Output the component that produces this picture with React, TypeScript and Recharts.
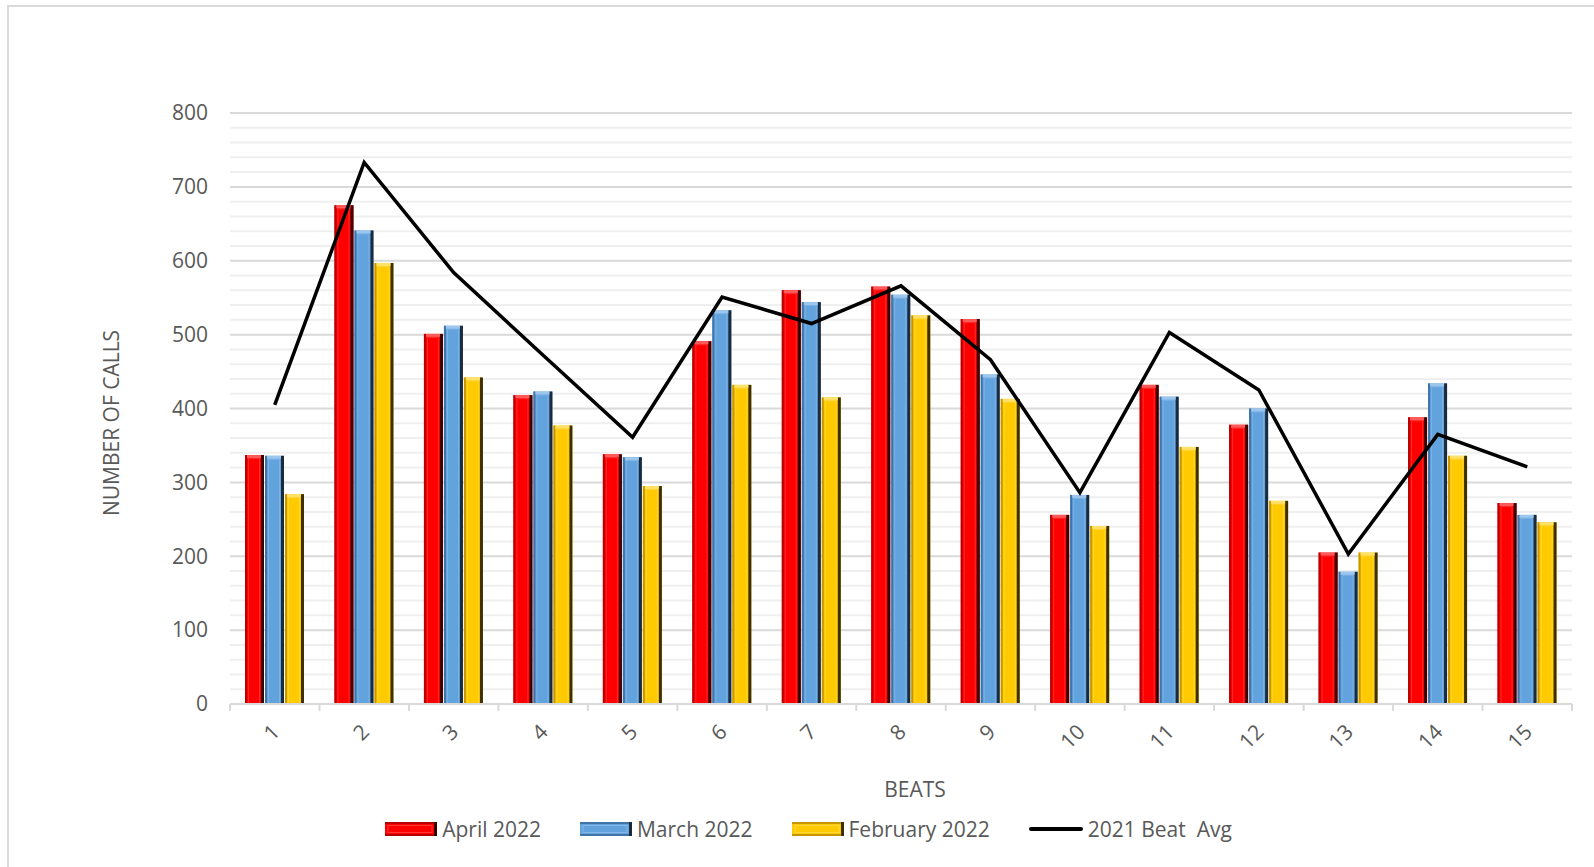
import React from 'react';
import {
  ComposedChart,
  Bar,
  Line,
  XAxis,
  YAxis,
  CartesianGrid,
} from 'recharts';

// beats and monthly call counts
const beats = ['1', '2', '3', '4', '5', '6', '7', '8', '9', '10', '11', '12', '13', '14', '15'];
const april2022 = [337, 675, 501, 418, 338, 491, 560, 565, 521, 256, 432, 378, 205, 388, 272];
const march2022 = [336, 641, 512, 423, 334, 533, 544, 554, 446, 283, 416, 400, 179, 434, 256];
const february2022 = [284, 597, 442, 377, 295, 432, 415, 526, 413, 241, 348, 275, 205, 336, 246];
const beatAvg2021 = [405, 733, 584, 472, 361, 551, 515, 566, 466, 286, 503, 425, 203, 365, 321];

const yLabels = [0, 100, 200, 300, 400, 500, 600, 700, 800];
const yMinorStep = 20;

const data = beats.map((beat, i) => ({
  beat,
  april: april2022[i],
  march: march2022[i],
  february: february2022[i],
  avg: beatAvg2021[i],
}));

const yTicks = Array.from({ length: 800 / yMinorStep + 1 }, (_, i) => i * yMinorStep);

const W = 1594;
const H = 867;
const TOP = 113;
const RIGHT = 22;
const Y_AXIS_W = 230;
const X_AXIS_H = 163;
const PLOT_BOTTOM = H - X_AXIS_H;
const PLOT_H = PLOT_BOTTOM - TOP;
const BAND = (W - Y_AXIS_W - RIGHT) / beats.length;

const FONT = "'Open Sans', 'Noto Sans', sans-serif";
const FS = 21;
const TEXT = '#595959';

const tones = {
  red: { base: '#FF0000', edge: '#B80000', dark: '#3A0000', light: '#FF5A5A' },
  blue: { base: '#62A2DD', edge: '#3F74A8', dark: '#1C2B3C', light: '#9CC6EE' },
  yellow: { base: '#FFCA00', edge: '#C89600', dark: '#3D3000', light: '#FFE16A' },
};

type Tone = typeof tones.red;

// bar with the bevelled look of the office chart
function BevelBar(props: any) {
  const { x, y, width, height, tone } = props as { x: number; y: number; width: number; height: number; tone: Tone };
  if (!height || height <= 0) return null;
  return (
    <g>
      <rect x={x} y={y} width={width} height={height} fill={tone.base} />
      <rect x={x} y={y} width={2} height={height} fill={tone.edge} />
      <rect x={x + width - 3} y={y} width={3} height={height} fill={tone.dark} />
      <rect x={x + 2} y={y} width={width - 5} height={3} fill={tone.light} />
      <rect
        x={x + 3.5}
        y={y + 3.5}
        width={Math.max(width - 8, 0)}
        height={Math.max(height - 4, 0)}
        fill="none"
        stroke={tone.light}
        strokeOpacity={0.45}
        strokeWidth={1}
      />
    </g>
  );
}

function XTick(props: any) {
  const { x, payload, index } = props;
  const left = x - BAND / 2;
  return (
    <g>
      <line x1={left} y1={PLOT_BOTTOM} x2={left} y2={PLOT_BOTTOM + 7} stroke="#D9D9D9" strokeWidth={2} />
      {index === beats.length - 1 && (
        <line x1={left + BAND} y1={PLOT_BOTTOM} x2={left + BAND} y2={PLOT_BOTTOM + 7} stroke="#D9D9D9" strokeWidth={2} />
      )}
      <text
        x={x + 1}
        y={PLOT_BOTTOM + 24}
        dy="0.35em"
        textAnchor="end"
        transform={`rotate(-45 ${x + 1} ${PLOT_BOTTOM + 24})`}
        style={{ fontFamily: FONT, fontSize: FS, fill: TEXT }}
      >
        {payload.value}
      </text>
    </g>
  );
}

function YTick(props: any) {
  const { y, payload } = props;
  if (!yLabels.includes(payload.value)) return null;
  return (
    <text
      x={Y_AXIS_W - 22}
      y={y}
      dy="0.35em"
      textAnchor="end"
      style={{ fontFamily: FONT, fontSize: FS, fill: TEXT }}
    >
      {payload.value}
    </text>
  );
}

function GridLine(props: any) {
  const { x1, x2, y1, y2 } = props;
  const v = Math.round(((PLOT_BOTTOM - y1) / PLOT_H) * 800);
  const major = v % 100 === 0;
  return (
    <line
      key={`g-${y1}`}
      x1={x1}
      x2={x2}
      y1={y1}
      y2={y2}
      stroke={major ? '#D9D9D9' : '#EFEFEF'}
      strokeWidth={2}
    />
  );
}

const legendItems = [
  { label: 'April 2022', tone: tones.red },
  { label: 'March 2022', tone: tones.blue },
  { label: 'February 2022', tone: tones.yellow },
];

function LegendSwatch({ tone }: { tone: Tone }) {
  return (
    <svg width={52} height={14}>
      <rect x={0} y={0} width={52} height={14} fill={tone.base} />
      <rect x={0} y={0} width={52} height={2} fill={tone.edge} />
      <rect x={0} y={12} width={52} height={2} fill={tone.edge} />
      <rect x={49} y={0} width={3} height={14} fill={tone.dark} />
      <rect x={3} y={3.5} width={44} height={7} fill="none" stroke={tone.light} strokeOpacity={0.6} />
    </svg>
  );
}

export default function App() {
  return (
    <div
      style={{
        position: 'absolute',
        left: 0,
        top: 0,
        width: W,
        height: H,
        overflow: 'hidden',
        background: '#fff',
        fontFamily: FONT,
      }}
    >
      <div
        style={{
          position: 'absolute',
          left: 7,
          top: 5,
          width: 2000,
          height: 2000,
          border: '2px solid #DADADA',
        }}
      />
      <div style={{ position: 'absolute', left: 0, top: 0 }}>
        <ComposedChart
          width={W}
          height={H}
          data={data}
          margin={{ top: TOP, right: RIGHT, left: 0, bottom: 0 }}
          barSize={19}
          barGap={1}
        >
          <CartesianGrid vertical={false} horizontal={GridLine} />
          <XAxis
            dataKey="beat"
            interval={0}
            height={X_AXIS_H}
            tickLine={false}
            axisLine={{ stroke: '#D9D9D9', strokeWidth: 2 }}
            tick={<XTick />}
            label={() => (
              <text
                x={915}
                y={789}
                textAnchor="middle"
                dominantBaseline="central"
                style={{ fontFamily: FONT, fontSize: FS, fill: TEXT }}
              >
                BEATS
              </text>
            )}
          />
          <YAxis
            width={Y_AXIS_W}
            domain={[0, 800]}
            ticks={yTicks}
            interval={0}
            axisLine={false}
            tickLine={false}
            tick={<YTick />}
            label={() => (
              <text
                transform="translate(111 423) rotate(-90)"
                textAnchor="middle"
                dominantBaseline="central"
                style={{ fontFamily: FONT, fontSize: FS, fill: TEXT }}
              >
                NUMBER OF CALLS
              </text>
            )}
          />
          <Bar dataKey="april" name="April 2022" fill={tones.red.base} isAnimationActive={false}
            shape={(p: any) => <BevelBar {...p} tone={tones.red} />} />
          <Bar dataKey="march" name="March 2022" fill={tones.blue.base} isAnimationActive={false}
            shape={(p: any) => <BevelBar {...p} tone={tones.blue} />} />
          <Bar dataKey="february" name="February 2022" fill={tones.yellow.base} isAnimationActive={false}
            shape={(p: any) => <BevelBar {...p} tone={tones.yellow} />} />
          <Line
            type="linear"
            dataKey="avg"
            name="2021 Beat Avg"
            stroke="#000"
            strokeWidth={3.5}
            dot={false}
            activeDot={false}
            isAnimationActive={false}
          />
        </ComposedChart>
      </div>

      {/* legend */}
      <div
        style={{
          position: 'absolute',
          left: 0,
          width: 1617,
          top: 815,
          display: 'flex',
          justifyContent: 'center',
          alignItems: 'center',
          gap: 39,
          fontSize: FS,
          color: TEXT,
        }}
      >
        {legendItems.map(item => (
          <div key={item.label} style={{ display: 'flex', alignItems: 'center', gap: 5 }}>
            <LegendSwatch tone={item.tone} />
            <span>{item.label}</span>
          </div>
        ))}
        <div style={{ display: 'flex', alignItems: 'center', gap: 5 }}>
          <svg width={54} height={14}>
            <line x1={2} y1={7} x2={52} y2={7} stroke="#000" strokeWidth={4} strokeLinecap="round" />
          </svg>
          <span style={{ whiteSpace: 'pre' }}>2021 Beat  Avg</span>
        </div>
      </div>
    </div>
  );
}
